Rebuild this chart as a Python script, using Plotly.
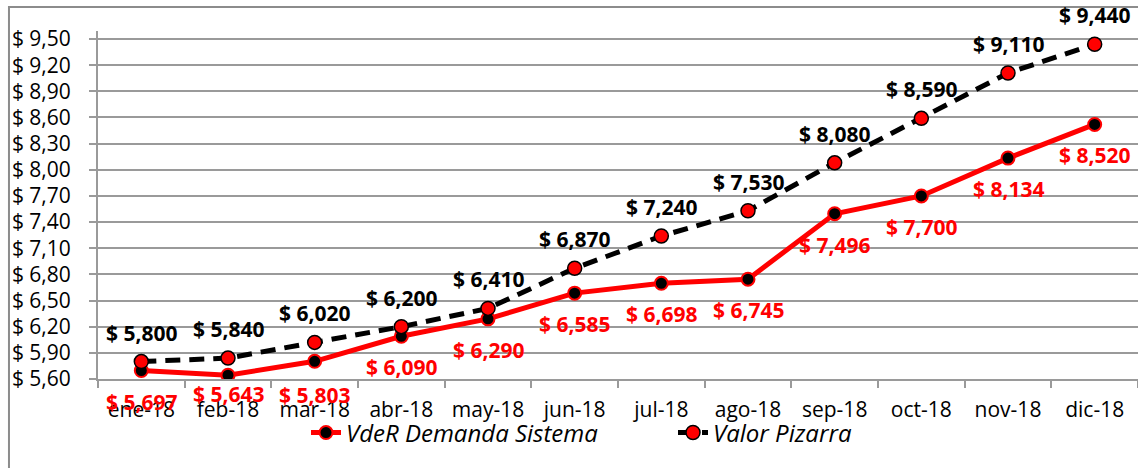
import plotly.graph_objects as go

months = ["ene-18", "feb-18", "mar-18", "abr-18", "may-18", "jun-18",
          "jul-18", "ago-18", "sep-18", "oct-18", "nov-18", "dic-18"]
vder_demanda = [5.697, 5.643, 5.803, 6.090, 6.290, 6.585,
                6.698, 6.745, 7.496, 7.700, 8.134, 8.520]
valor_pizarra = [5.800, 5.840, 6.020, 6.200, 6.410, 6.870,
                 7.240, 7.530, 8.080, 8.590, 9.110, 9.440]
y_ticks = [5.60, 5.90, 6.20, 6.50, 6.80, 7.10, 7.40, 7.70, 8.00, 8.30, 8.60, 8.90, 9.20, 9.50]
y_ticktext = ["$ " + f"{v:.2f}".replace(".", ",") for v in y_ticks]

# label offsets (px) for the red series; Excel nudged the low ones
demanda_label_shift = {"feb-18": -19, "mar-18": -34}


def money3(v):
    return "$ " + f"{v:.3f}".replace(".", ",")


FONT = "Open Sans"
GRID = "#9a9a9a"

fig = go.Figure()
fig.add_trace(go.Scatter(
    x=months, y=vder_demanda, name="VdeR Demanda Sistema", mode="lines+markers",
    line=dict(color="#ff0000", width=5),
    marker=dict(size=13, color="#000000", line=dict(color="#ff0000", width=2)),
))
fig.add_trace(go.Scatter(
    x=months, y=valor_pizarra, name="Valor Pizarra", mode="lines+markers",
    line=dict(color="#000000", width=5, dash="15px,9px"),
    marker=dict(size=14, color="#ff0000", line=dict(color="#000000", width=1.5)),
))

annotations = []
for m, v in zip(months, vder_demanda):
    annotations.append(dict(x=m, y=v, xref="x", yref="y", text=money3(v), showarrow=False,
                            yshift=demanda_label_shift.get(m, -31),
                            font=dict(family=FONT, size=21, color="#ff0000", weight="bold")))
for m, v in zip(months, valor_pizarra):
    annotations.append(dict(x=m, y=v, xref="x", yref="y", text=money3(v), showarrow=False,
                            yshift=29, font=dict(family=FONT, size=21, color="#000000", weight="bold")))

fig.update_layout(
    width=1138, height=468,
    margin=dict(l=98, r=0, t=31, b=89),
    paper_bgcolor="white", plot_bgcolor="white",
    font=dict(family=FONT, size=21, color="#000000"),
    showlegend=True,
    legend=dict(orientation="h", x=0.2, y=-0.155, xanchor="left", yanchor="middle",
                font=dict(family=FONT, size=24, style="italic"),
                entrywidth=322, bgcolor="rgba(0,0,0,0)"),
    annotations=annotations,
    shapes=[dict(type="path", xref="paper", yref="paper",
                 path="M -0.0856,-0.3 L -0.0856,1.069 L 1.05,1.069",
                 line=dict(color="#8c8c8c", width=2))],
)
fig.update_xaxes(
    type="category", range=[-0.5, 11.5], showgrid=False,
    showline=True, linecolor=GRID, linewidth=2,
    ticks="outside", tickson="boundaries", ticklen=7, tickcolor=GRID, tickwidth=2,
    tickfont=dict(family=FONT, size=21, color="#000000"), ticklabelstandoff=11,
)
fig.update_yaxes(
    range=[5.60, 9.592], tickvals=y_ticks, ticktext=y_ticktext,
    showgrid=True, gridcolor=GRID, gridwidth=2, zeroline=False,
    showline=True, linecolor=GRID, linewidth=2,
    ticks="outside", ticklen=7, tickcolor=GRID, tickwidth=2,
    tickfont=dict(family=FONT, size=21, color="#000000"), ticklabelstandoff=14,
)

fig.write_html("out.html", config={"displayModeBar": False},
               post_script="document.body.style.margin='0';document.body.style.overflow='hidden';")
